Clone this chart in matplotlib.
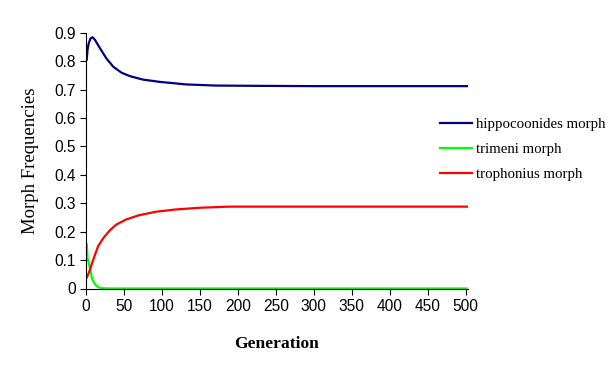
import matplotlib.pyplot as plt

# values
gen_blue = [0, 1, 2, 3.5, 6, 8.7, 11.8, 16, 20.6, 27, 36, 47, 58, 75, 97, 132, 171, 228, 300, 400, 503]
hippocoonides = [0.800, 0.805, 0.839, 0.862, 0.880, 0.884, 0.875, 0.856, 0.836, 0.809, 0.780, 0.759,
                 0.747, 0.735, 0.727, 0.718, 0.714, 0.713, 0.712, 0.712, 0.712]

gen_green = [0, 1, 2, 3, 6, 8, 12, 16, 20, 30, 100, 503]
trimeni = [0.160, 0.156, 0.105, 0.098, 0.062, 0.033, 0.014, 0.005, 0.001, 0.0, 0.0, 0.0]

gen_red = [0, 1, 4.5, 7.5, 12, 16, 23, 31.5, 40, 53, 70, 92, 118, 149, 188, 250, 350, 503]
trophonius = [0.036, 0.038, 0.061, 0.085, 0.120, 0.149, 0.178, 0.205, 0.225, 0.243, 0.258, 0.270,
              0.278, 0.284, 0.288, 0.288, 0.288, 0.288]

xticks = list(range(0, 501, 50))
yticks = [0, 0.1, 0.2, 0.3, 0.4, 0.5, 0.6, 0.7, 0.8, 0.9]
ylabels = ["0", "0.1", "0.2", "0.3", "0.4", "0.5", "0.6", "0.7", "0.8", "0.9"]

fig = plt.figure(figsize=(6.14, 3.75), dpi=100)
ax = fig.add_axes([86 / 614, 1 - 288.5 / 375, (468 - 86) / 614, (288.5 - 32.7) / 375])

ax.plot(gen_blue, hippocoonides, color="#000080", lw=1.6, label="hippocoonides morph")
ax.plot(gen_green, trimeni, color="#00FF00", lw=1.6, label="trimeni morph")
ax.plot(gen_red, trophonius, color="#FF0000", lw=1.6, label="trophonius morph")

ax.set_xlim(0, 503)
ax.set_ylim(0, 0.9)
ax.set_xticks(xticks)
ax.set_yticks(yticks)
ax.set_yticklabels(ylabels)
for s in ["top", "right"]:
    ax.spines[s].set_visible(False)
for s in ["left", "bottom"]:
    ax.spines[s].set_linewidth(0.8)
ax.tick_params(direction="out", length=4, width=0.8, labelsize=11.2, pad=3.5)
for lab in ax.get_xticklabels() + ax.get_yticklabels():
    lab.set_fontfamily("Liberation Sans")

ax.set_xlabel("Generation", family="Liberation Serif", fontsize=12.6, fontweight="bold", labelpad=16)
ax.set_ylabel("Morph Frequencies", family="Liberation Serif", fontsize=13.5, labelpad=11)

fig.legend(loc="upper left", bbox_to_anchor=(440 / 614, 1 - 118 / 375), frameon=False,
           prop={"family": "Liberation Serif", "size": 10.7}, handlelength=2.15,
           handletextpad=0.3, labelspacing=0.76, borderpad=0, borderaxespad=0)

fig.savefig("out.png", dpi=100)
